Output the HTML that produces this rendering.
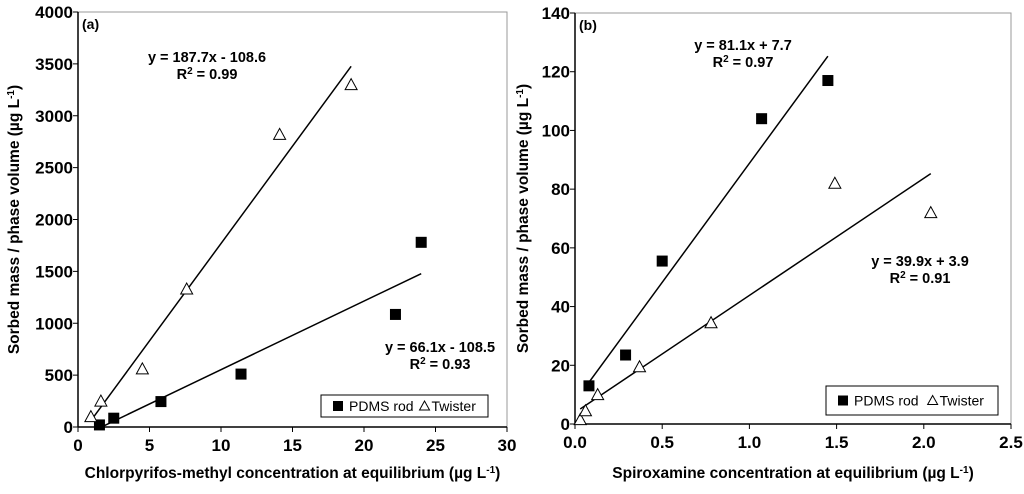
<!DOCTYPE html>
<html><head><meta charset="utf-8"><style>
body{margin:0;background:#fff;}
svg text{font-family:"Liberation Sans",Arial,sans-serif;font-weight:bold;fill:#000;}
</style></head><body>
<svg id="c" width="1024" height="489" viewBox="0 0 1024 489"></svg>
<script>
const aPdmsX=[1.5,2.5,5.8,11.4,22.2,24];
const aPdmsY=[20,85,245,510,1085,1780];
const aTwX=[0.9,1.6,4.5,7.6,14.1,19.1];
const aTwY=[100,250,560,1330,2820,3300];
const aXTicks=[0,5,10,15,20,25,30];
const aYTicks=[0,500,1000,1500,2000,2500,3000,3500,4000];
const bPdmsX=[0.08,0.29,0.5,1.07,1.45];
const bPdmsY=[13,23.5,55.5,104,117];
const bTwX=[0.03,0.06,0.13,0.37,0.78,1.49,2.04];
const bTwY=[1.5,4.5,10,19.5,34.5,82,72];
const bXTicks=[0,0.5,1.0,1.5,2.0,2.5];
const bYTicks=[0,20,40,60,80,100,120,140];
const aFits=[[187.7,-108.6,0.9,19.1],[66.1,-108.5,1.6,24]];
const bFits=[[81.1,7.7,0.08,1.45],[39.9,3.9,0.03,2.04]];

const NS="http://www.w3.org/2000/svg";
const svg=document.getElementById('c');
function mk(t,a,p){const e=document.createElementNS(NS,t);for(const k in a)e.setAttribute(k,a[k]);(p||svg).appendChild(e);return e;}

function panel(o){
  const g=mk('g',{});
  
  
  const X=v=>o.x0+(v-o.xmin)/(o.xmax-o.xmin)*(o.x1-o.x0);
  const Y=v=>o.y0-(v-o.ymin)/(o.ymax-o.ymin)*(o.y0-o.y1);
  const fr=mk('rect',{x:o.x0,y:o.y1,width:o.x1-o.x0,height:o.y0-o.y1,fill:'none',stroke:'#999','stroke-width':1},g);
  
  mk('line',{x1:o.x0,y1:o.y1,x2:o.x0,y2:o.y0,stroke:'#000','stroke-width':1.5},g);
  mk('line',{x1:o.x0,y1:o.y0,x2:o.x1,y2:o.y0,stroke:'#000','stroke-width':1.5},g);
  o.yt.forEach(v=>{mk('line',{x1:o.x0-5,y1:Y(v),x2:o.x0,y2:Y(v),stroke:'#000'},g);
    const t=mk('text',{x:o.x0-5,y:Y(v)+6,'text-anchor':'end','font-size':17},g);t.textContent=o.yf(v);
    });
  o.xt.forEach(v=>{mk('line',{x1:X(v),y1:o.y0,x2:X(v),y2:o.y0+5,stroke:'#000'},g);
    const t=mk('text',{x:X(v),y:o.y0+24,'text-anchor':'middle','font-size':17},g);t.textContent=o.xf(v);
    });
  o.fits.forEach(f=>{const l=mk('line',{x1:X(f[2]),y1:Y(f[0]*f[2]+f[1]),x2:X(f[3]),y2:Y(f[0]*f[3]+f[1]),stroke:'#000','stroke-width':1.5},g);
    });
  o.px.forEach((v,i)=>{const r=mk('rect',{x:X(v)-5.5,y:Y(o.py[i])-5.5,width:11,height:11,fill:'#000'},g);
    });
  o.tx.forEach((v,i)=>{const cx=X(v),cy=Y(o.ty[i]);
    const p=mk('polygon',{points:`${cx},${cy-6} ${cx-6},${cy+5} ${cx+6},${cy+5}`,fill:'#fff',stroke:'#000','stroke-width':1},g);
    });
  const lab=mk('text',{x:o.x0+4,y:o.y1+17,'font-size':14},g);lab.textContent=o.label;
  
  o.eqs.forEach(e=>{const t=mk('text',{x:e[0],y:e[1],'text-anchor':'middle','font-size':14.5},g);t.textContent=e[2];
    
    const r=mk('text',{x:e[0],y:e[1]+17,'text-anchor':'middle','font-size':14.5},g);
    
    r.innerHTML=`R<tspan dy="-5" font-size="10">2</tspan><tspan dy="5"> = ${e[3]}</tspan>`;});
  const L=o.leg;const lg=mk('g',{},g);
  
  mk('rect',{x:L[0],y:L[1],width:L[2],height:L[3],fill:'#fff',stroke:'#000'},lg);
  const my=L[1]+L[3]/2;
  mk('rect',{x:L[0]+12,y:my-5,width:10,height:10,fill:'#000'},lg);
  const t1=mk('text',{x:L[0]+28,y:my+5,'font-size':14},lg);t1.textContent='PDMS rod';t1.style.fontWeight='normal';
  const tx=L[0]+L[2]*0.62;
  mk('polygon',{points:`${tx},${my-5} ${tx-5},${my+4} ${tx+5},${my+4}`,fill:'#fff',stroke:'#000'},lg);
  const t2=mk('text',{x:tx+7,y:my+5,'font-size':14},lg);t2.textContent='Twister';t2.style.fontWeight='normal';
  const yt=mk('text',{transform:`translate(${o.ytx},${(o.y0+o.y1)/2}) rotate(-90)`,'text-anchor':'middle','font-size':15.5},g);
  yt.innerHTML='Sorbed mass / phase volume (µg L<tspan dy="-5" font-size="10">-1</tspan><tspan dy="5">)</tspan>';
  
  const xtt=mk('text',{x:(o.x0+o.x1)/2,y:478,'text-anchor':'middle','font-size':15.5},g);
  xtt.innerHTML=o.xtitle+' (µg L<tspan dy="-5" font-size="10">-1</tspan><tspan dy="5">)</tspan>';
  
}
panel({name:'panel-a',x0:78,x1:507,y0:427,y1:12,xmin:0,xmax:30,ymin:0,ymax:4000,xt:aXTicks,yt:aYTicks,
  xf:v=>String(v),yf:v=>String(v),fits:aFits,px:aPdmsX,py:aPdmsY,tx:aTwX,ty:aTwY,label:'(a)',
  eqs:[[207,62,'y = 187.7x - 108.6','0.99'],[440,352,'y = 66.1x - 108.5','0.93']],
  leg:[321,395,167,22],ytx:19,xtitle:'Chlorpyrifos-methyl concentration at equilibrium'});
panel({name:'panel-b',x0:575,x1:1011,y0:424,y1:13,xmin:0,xmax:2.5,ymin:0,ymax:140,xt:bXTicks,yt:bYTicks,
  xf:v=>v.toFixed(1),yf:v=>String(v),fits:bFits,px:bPdmsX,py:bPdmsY,tx:bTwX,ty:bTwY,label:'(b)',
  eqs:[[743,50,'y = 81.1x + 7.7','0.97'],[920,266,'y = 39.9x + 3.9','0.91']],
  leg:[826,386,172,29],ytx:528,xtitle:'Spiroxamine concentration at equilibrium'});
</script>
</body></html>
